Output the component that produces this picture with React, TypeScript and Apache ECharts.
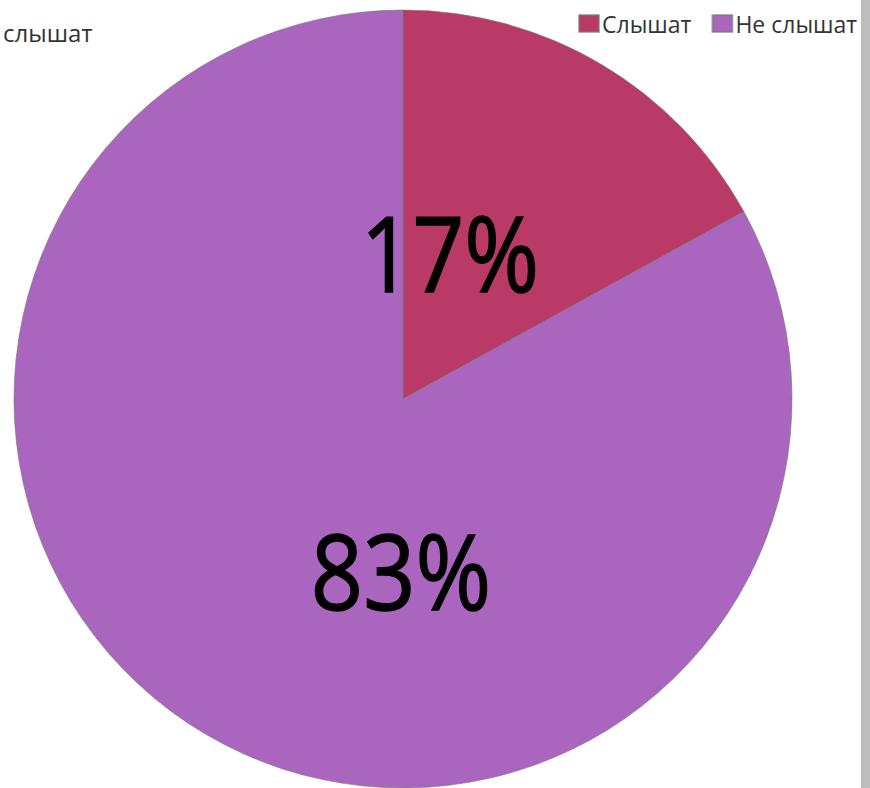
import React, { useEffect, useRef } from "react";
import * as echarts from "echarts";

const categories = ["Слышат", "Не слышат"];
const values = [17, 83];
const colors = ["#B93A66", "#AA66BE"];

export default function App() {
  const ref = useRef<HTMLDivElement>(null);
  useEffect(() => {
    if (!ref.current) return;
    const chart = echarts.init(ref.current, null, { renderer: "svg" });
    const total = values.reduce((a, b) => a + b, 0);
    const pct = values.map((v) => Math.round((v / total) * 100) + "%");
    const bigText = (text: string, x: number, y: number, sx: number) => ({
      type: "text",
      x,
      y,
      z: 100,
      scaleX: sx,
      style: {
        text,
        fontFamily: "Open Sans",
        fontSize: 104,
        fill: "#000",
        stroke: "#000",
        lineWidth: 1.5,
        align: "center",
        verticalAlign: "middle",
      },
    });
    chart.setOption({
      animation: false,
      backgroundColor: "#ffffff",
      color: colors,
      legend: {
        left: 573,
        top: 7,
        width: 600,
        orient: "horizontal",
        itemWidth: 20,
        itemHeight: 17,
        itemGap: 20,
        icon: "rect",
        textStyle: { fontFamily: "Open Sans", fontSize: 23, color: "#333", padding: [0, 0, 0, -2] },
        data: categories,
      },
      series: [
        {
          type: "pie",
          center: [403, 399],
          radius: 389,
          startAngle: 90,
          clockwise: true,
          label: { show: false },
          labelLine: { show: false },
          itemStyle: { borderColor: "rgba(120,120,120,0.6)", borderWidth: 1 },
          emphasis: { disabled: true },
          data: categories.map((name, i) => ({ name, value: values[i] })),
        },
      ],
      graphic: [
        {
          type: "text",
          left: 3,
          top: 20,
          z: 100,
          style: { text: "слышат", fontFamily: "Open Sans", fontSize: 24, fill: "#333" },
        },
        bigText(pct[0], 450, 252, 0.87),
        bigText(pct[1], 401, 570, 0.88),
        {
          type: "rect",
          shape: { x: 861, y: 0, width: 9, height: 788 },
          style: { fill: "#BDBDBD" },
          z: 100,
        },
      ],
    });
    return () => chart.dispose();
  }, []);
  return (
    <div
      ref={ref}
      style={{ position: "absolute", left: 0, top: 0, width: 870, height: 788 }}
    />
  );
}
